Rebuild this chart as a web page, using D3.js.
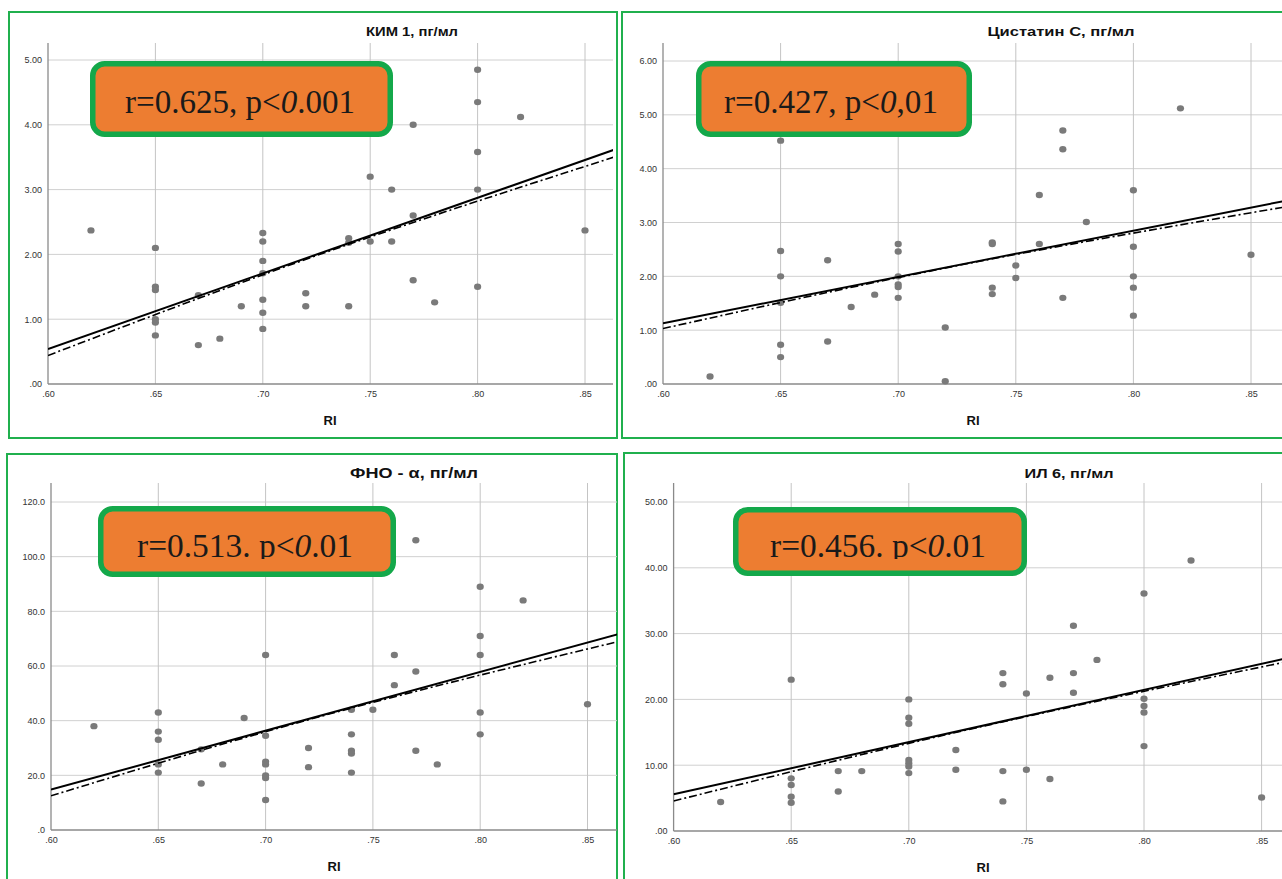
<!DOCTYPE html>
<html>
<head>
<meta charset="utf-8">
<script src="https://cdn.jsdelivr.net/npm/d3@7"></script>
<style>
body { margin: 0; background: #fff; }
svg { display: block; }
</style>
</head>
<body>
<script>
// values (RI on x)
const kimRI  = [0.62, 0.65, 0.65, 0.65, 0.65, 0.65, 0.65, 0.67, 0.67, 0.68, 0.69,
                0.70, 0.70, 0.70, 0.70, 0.70, 0.70, 0.70, 0.72, 0.72, 0.74, 0.74, 0.74,
                0.75, 0.75, 0.76, 0.76, 0.77, 0.77, 0.77, 0.78,
                0.80, 0.80, 0.80, 0.80, 0.80, 0.82, 0.85];
const kimVal = [2.37, 2.10, 1.50, 1.45, 1.00, 0.95, 0.75, 1.37, 0.60, 0.70, 1.20,
                2.33, 2.20, 1.90, 1.71, 1.30, 1.10, 0.85, 1.40, 1.20, 2.25, 2.18, 1.20,
                3.20, 2.20, 3.00, 2.20, 4.00, 2.60, 1.60, 1.26,
                4.85, 4.35, 3.58, 3.00, 1.50, 4.12, 2.37];

const cysRI  = [0.62, 0.65, 0.65, 0.65, 0.65, 0.65, 0.65, 0.67, 0.67, 0.68, 0.69,
                0.70, 0.70, 0.70, 0.70, 0.70, 0.70, 0.72, 0.72, 0.74, 0.74, 0.74, 0.74,
                0.75, 0.75, 0.76, 0.76, 0.77, 0.77, 0.77, 0.78,
                0.80, 0.80, 0.80, 0.80, 0.80, 0.82, 0.85];
const cysVal = [0.14, 4.52, 2.47, 2.00, 1.51, 0.73, 0.50, 2.30, 0.79, 1.43, 1.66,
                2.60, 2.46, 2.00, 1.85, 1.80, 1.60, 1.05, 0.05, 2.63, 2.60, 1.79, 1.67,
                2.20, 1.97, 3.51, 2.60, 4.71, 4.36, 1.60, 3.01,
                3.60, 2.55, 2.00, 1.79, 1.27, 5.12, 2.40];

const tnfRI  = [0.62, 0.65, 0.65, 0.65, 0.65, 0.65, 0.67, 0.67, 0.68, 0.69,
                0.70, 0.70, 0.70, 0.70, 0.70, 0.70, 0.70, 0.72, 0.72,
                0.74, 0.74, 0.74, 0.74, 0.74, 0.75, 0.76, 0.76, 0.77, 0.77, 0.77, 0.78,
                0.80, 0.80, 0.80, 0.80, 0.80, 0.82, 0.85];
const tnfVal = [38, 43, 36, 33, 24, 21, 29.5, 17, 24, 41,
                64, 34.5, 25, 24, 20, 19, 11, 30, 23,
                44, 35, 29, 28, 21, 44, 64, 53, 106, 58, 29, 24,
                89, 71, 64, 43, 35, 84, 46];

const il6RI  = [0.62, 0.65, 0.65, 0.65, 0.65, 0.65, 0.67, 0.67, 0.68,
                0.70, 0.70, 0.70, 0.70, 0.70, 0.70, 0.70, 0.72, 0.72,
                0.74, 0.74, 0.74, 0.74, 0.75, 0.75, 0.76, 0.76, 0.77, 0.77, 0.77, 0.78,
                0.80, 0.80, 0.80, 0.80, 0.80, 0.82, 0.85];
const il6Val = [4.4, 23, 8, 7, 5.2, 4.3, 9.1, 6.0, 9.1,
                20, 17.2, 16.3, 10.8, 10.3, 9.8, 8.8, 12.3, 9.3,
                24, 22.3, 9.1, 4.5, 20.9, 9.3, 23.3, 7.9, 31.2, 24, 21, 26,
                36.1, 20.1, 19, 18, 12.9, 41.1, 5.1];

// linear fit (solid) at fitX, smoother (dash-dot) at fitX2
const fitX = [0.60, 0.87];
const fitX2 = [0.60, 0.73, 0.87];
const kimFit = [0.54, 3.69], kimFit2 = [0.44, 2.04, 3.57];
const cysFit = [1.13, 3.45], cysFit2 = [1.03, 2.24, 3.33];
const tnfFit = [14.8, 72.9], tnfFit2 = [12.5, 42.5, 70.0];
const il6Fit = [5.57, 27.0], il6Fit2 = [4.56, 15.8, 26.4];

const xTicks = [0.60, 0.65, 0.70, 0.75, 0.80, 0.85];
const kimTicks = [0, 1, 2, 3, 4, 5];
const cysTicks = [0, 1, 2, 3, 4, 5, 6];
const tnfTicks = [0, 20, 40, 60, 80, 100, 120];
const il6Ticks = [0, 10, 20, 30, 40, 50];

const titles = ['КИМ 1, пг/мл', 'Цистатин С, пг/мл', 'ФНО - α, пг/мл', 'ИЛ 6, пг/мл'];
const statR  = ['r=0.625, p<', 'r=0.427, p<', 'r=0.513. p<', 'r=0.456. p<'];
const statP  = ['0', '0', '0', '0'];
const statTail = ['.001', ',01', '.01', '.01'];

const svg = d3.select('body').append('svg')
  .attr('width', 1282).attr('height', 879);

const noLead = (dec) => (v) => d3.format('.' + dec + 'f')(v).replace(/^0/, '');

const panels = [
  { ri: kimRI, val: kimVal, fit: kimFit, fit2: kimFit2, yTicks: kimTicks, dec: 2,
    border: [9, 12, 608, 426], left: 48, step: 107.4, right: 613, bottom: 384, topTick: 60, top: 43,
    titleX: 412, titleY: 36, titleSize: 12, titleW: 92, rix: 330, riy: 425,
    box: [90, 61, 303, 76], textX: 125, textY: 113, textW: 230, clip: false },
  { ri: cysRI, val: cysVal, fit: cysFit, fit2: cysFit2, yTicks: cysTicks, dec: 2,
    border: [622, 12, 670, 426], left: 663, step: 117.6, right: 1290, bottom: 384, topTick: 61, top: 43,
    titleX: 1061, titleY: 36, titleSize: 12.5, titleW: 147, rix: 973, riy: 425,
    box: [696, 61, 276, 76], textX: 724, textY: 113, textW: 214, clip: false },
  { ri: tnfRI, val: tnfVal, fit: tnfFit, fit2: tnfFit2, yTicks: tnfTicks, dec: 1,
    border: [7, 454, 610, 440], left: 51, step: 107.3, right: 617, bottom: 830, topTick: 502, top: 483,
    titleX: 414, titleY: 478, titleSize: 15, titleW: 128, rix: 334, riy: 871,
    box: [98, 506, 298, 71], textX: 137, textY: 557, textW: 216, clip: true },
  { ri: il6RI, val: il6Val, fit: il6Fit, fit2: il6Fit2, yTicks: il6Ticks, dec: 2,
    border: [624, 453, 670, 440], left: 673.6, step: 117.6, right: 1290, bottom: 831, topTick: 502, top: 483,
    titleX: 1069, titleY: 478, titleSize: 12.5, titleW: 89, rix: 983, riy: 872,
    box: [733, 507, 294, 69], textX: 770, textY: 557, textW: 216, clip: true }
];

panels.forEach((p, i) => {
  const g = svg.append('g');
  const x = d3.scaleLinear().domain([0.60, 0.85]).range([p.left, p.left + p.step * 5]);
  const yMax = p.yTicks[p.yTicks.length - 1];
  const y = d3.scaleLinear().domain([0, yMax]).range([p.bottom, p.topTick]);

  g.append('rect')
    .attr('x', p.border[0]).attr('y', p.border[1])
    .attr('width', p.border[2]).attr('height', p.border[3])
    .attr('fill', 'none').attr('stroke', '#20b04e').attr('stroke-width', 2);

  const clipId = 'plot' + i;
  svg.append('clipPath').attr('id', clipId).append('rect')
    .attr('x', p.left).attr('y', p.top)
    .attr('width', p.right - p.left).attr('height', p.bottom - p.top);

  // grid
  g.selectAll('.hg').data(p.yTicks.slice(1)).enter().append('line')
    .attr('x1', p.left).attr('x2', p.right)
    .attr('y1', d => y(d)).attr('y2', d => y(d))
    .attr('stroke', '#d0d0d0').attr('stroke-width', 1);
  g.selectAll('.vg').data(xTicks.slice(1)).enter().append('line')
    .attr('x1', d => x(d)).attr('x2', d => x(d))
    .attr('y1', p.bottom).attr('y2', p.top)
    .attr('stroke', '#c4c4c4').attr('stroke-width', 1);

  // axis lines
  g.append('line').attr('x1', p.left).attr('x2', p.left)
    .attr('y1', p.bottom).attr('y2', p.top).attr('stroke', '#8a8a8a').attr('stroke-width', 1.3);
  g.append('line').attr('x1', p.left).attr('x2', p.right)
    .attr('y1', p.bottom).attr('y2', p.bottom).attr('stroke', '#8a8a8a').attr('stroke-width', 1.3);

  // tick labels through d3 axes
  const ax = g.append('g').attr('transform', `translate(0,${p.bottom})`)
    .call(d3.axisBottom(x).tickValues(xTicks).tickSize(0).tickPadding(7).tickFormat(noLead(2)));
  const ay = g.append('g').attr('transform', `translate(${p.left},0)`)
    .call(d3.axisLeft(y).tickValues(p.yTicks).tickSize(0).tickPadding(6).tickFormat(noLead(p.dec)));
  [ax, ay].forEach(a => {
    a.select('.domain').remove();
    a.selectAll('text').attr('font-family', 'Liberation Sans, Arial, sans-serif')
      .attr('font-size', 9).attr('fill', '#333');
  });

  // points
  const pts = p.ri.map((r, k) => ({ r: r, v: p.val[k] }));
  g.append('g').selectAll('ellipse').data(pts).enter().append('ellipse')
    .attr('cx', d => x(d.r)).attr('cy', d => y(d.v))
    .attr('rx', 3.6).attr('ry', 3.2)
    .attr('fill', '#7a7a7a');

  // fit lines
  const fg = g.append('g').attr('clip-path', `url(#${clipId})`);
  const line = d3.line().x(d => x(d[0])).y(d => y(d[1]));
  const smooth = d3.line().curve(d3.curveNatural).x(d => x(d[0])).y(d => y(d[1]));
  fg.append('path').datum(fitX2.map((fx, k) => [fx, p.fit2[k]]))
    .attr('d', smooth).attr('fill', 'none').attr('stroke', '#000')
    .attr('stroke-width', 1.6).attr('stroke-dasharray', '8,3,2,3');
  fg.append('path').datum(fitX.map((fx, k) => [fx, p.fit[k]]))
    .attr('d', line).attr('fill', 'none').attr('stroke', '#000').attr('stroke-width', 2);

  // titles
  g.append('text').attr('x', p.titleX).attr('y', p.titleY).attr('text-anchor', 'middle')
    .attr('font-family', 'Liberation Sans, Arial, sans-serif').attr('font-weight', 'bold')
    .attr('font-size', p.titleSize).attr('fill', '#111')
    .attr('textLength', p.titleW).attr('lengthAdjust', 'spacingAndGlyphs')
    .text(titles[i]);
  g.append('text').attr('x', p.rix).attr('y', p.riy).attr('text-anchor', 'middle')
    .attr('font-family', 'Liberation Sans, Arial, sans-serif').attr('font-weight', 'bold')
    .attr('font-size', 13).attr('fill', '#111').text('RI');

  // stat box
  const sw = 5.5;
  g.append('rect')
    .attr('x', p.box[0] + sw / 2).attr('y', p.box[1] + sw / 2)
    .attr('width', p.box[2] - sw).attr('height', p.box[3] - sw)
    .attr('rx', 12).attr('fill', '#ed7d31').attr('stroke', '#14a84a').attr('stroke-width', sw);

  const tId = 'txt' + i;
  if (p.clip) {
    svg.append('clipPath').attr('id', tId).append('rect')
      .attr('x', p.box[0]).attr('y', p.box[1]).attr('width', p.box[2])
      .attr('height', p.textY + 2 - p.box[1]);
  }
  const t = g.append('text').attr('x', p.textX).attr('y', p.textY)
    .attr('font-family', 'Liberation Serif, Times New Roman, serif')
    .attr('font-size', 33).attr('fill', '#1a1a1a')
    .attr('textLength', p.textW).attr('lengthAdjust', 'spacingAndGlyphs');
  if (p.clip) t.attr('clip-path', `url(#${tId})`);
  t.append('tspan').text(statR[i]);
  t.append('tspan').attr('font-style', 'italic').text(statP[i]);
  t.append('tspan').text(statTail[i]);
});
</script>
</body>
</html>
